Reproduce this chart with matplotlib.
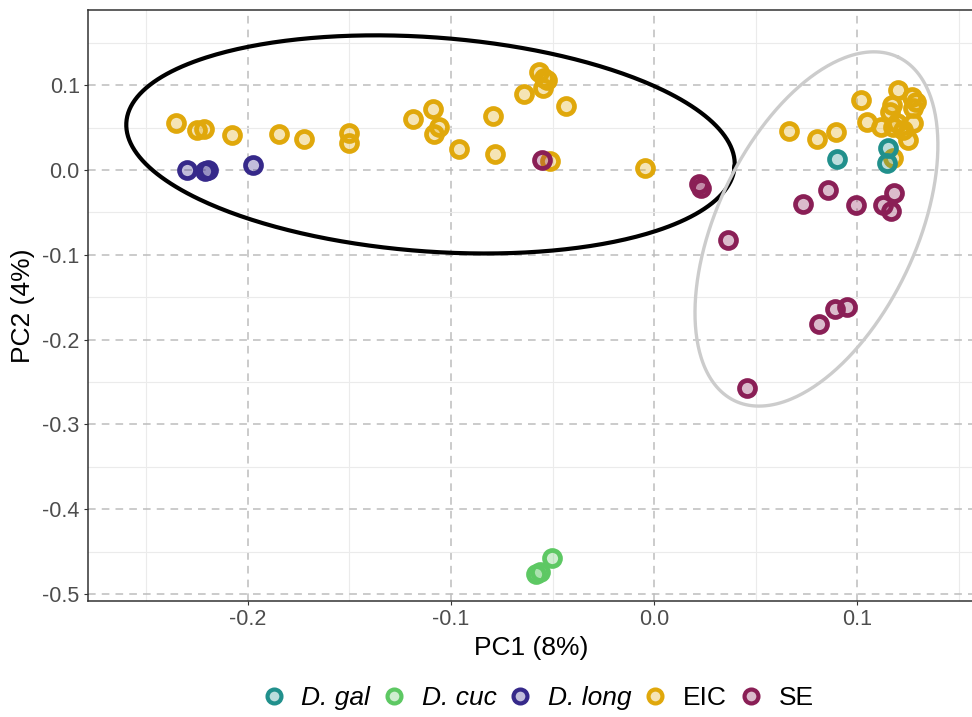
import numpy as np
import matplotlib.pyplot as plt
from matplotlib.lines import Line2D
from matplotlib.colors import to_rgba

plt.rcParams['font.family'] = ['Liberation Sans', 'DejaVu Sans']

# PCA scores per group
eic_x = [-0.2355, -0.2251, -0.2217, -0.2079, -0.1847, -0.1724, -0.1502, -0.1502,
         -0.1187, -0.1089, -0.1059, -0.1084, -0.0961, -0.0793, -0.0783, -0.0640,
         -0.0567, -0.0542, -0.0527, -0.0547, -0.0512, -0.0433, -0.0044,
         0.0665, 0.0803, 0.0897, 0.1020, 0.1049, 0.1118, 0.1202, 0.1172, 0.1163,
         0.1271, 0.1291, 0.1276, 0.1276, 0.1251, 0.1197, 0.1227, 0.1177, 0.1177]
eic_y = [0.0555, 0.0472, 0.0484, 0.0413, 0.0425, 0.0366, 0.0437, 0.0319,
         0.0602, 0.0720, 0.0507, 0.0425, 0.0248, 0.0637, 0.0189, 0.0897,
         0.1156, 0.1086, 0.1062, 0.0968, 0.0106, 0.0755, 0.0024,
         0.0460, 0.0366, 0.0448, 0.0826, 0.0566, 0.0507, 0.0944, 0.0767, 0.0684,
         0.0861, 0.0802, 0.0732, 0.0555, 0.0354, 0.0555, 0.0472, 0.0507, 0.0142]

se_x = [-0.0552, 0.0222, 0.0232, 0.0734, 0.0857, 0.0995, 0.1128, 0.1182, 0.1167,
        0.0365, 0.0892, 0.0951, 0.0813, 0.0458]
se_y = [0.0118, -0.0165, -0.0212, -0.0401, -0.0236, -0.0413, -0.0413, -0.0271, -0.0484,
        -0.0826, -0.1640, -0.1617, -0.1817, -0.2572]

gal_x = [0.0901, 0.1153, 0.1148]
gal_y = [0.0130, 0.0260, 0.0083]

cuc_x = [-0.0581, -0.0562, -0.0502]
cuc_y = [-0.4767, -0.4743, -0.4578]

long_x = [-0.2300, -0.2212, -0.2197, -0.1975]
long_y = [0.0000, -0.0012, 0.0000, 0.0059]

groups = ['D. gal', 'D. cuc', 'D. long', 'EIC', 'SE']
colors = {'D. gal': '#21908C', 'D. cuc': '#5DC863', 'D. long': '#36298A',
          'EIC': '#E0A80B', 'SE': '#8A1F56'}
points = {'EIC': (eic_x, eic_y), 'SE': (se_x, se_y), 'D. gal': (gal_x, gal_y),
          'D. cuc': (cuc_x, cuc_y), 'D. long': (long_x, long_y)}

fig = plt.figure(figsize=(9.72, 7.17), dpi=100)
ax = fig.add_axes([88 / 972, 116 / 717, 887 / 972, 591 / 717])

for g in ['EIC', 'SE', 'D. gal', 'D. cuc', 'D. long']:
    x, y = points[g]
    ax.plot(x, y, 'o', ls='none', ms=11.5, mew=3.4, mec=colors[g],
            mfc=to_rgba(colors[g], 0.3), zorder=3)

# cluster ellipses: centre plus two half-axis vectors
t = np.linspace(0, 2 * np.pi, 400)
for c, u, v, col, w in [((-0.1101, 0.0301), (0.1498, -0.0263), (0.00384, 0.1259), 'black', 3.0),
                        ((0.0800, -0.0696), (0.0402, 0.2027), (-0.0443, 0.0504), '#CCCCCC', 2.4)]:
    ex = c[0] + u[0] * np.cos(t) + v[0] * np.sin(t)
    ey = c[1] + u[1] * np.cos(t) + v[1] * np.sin(t)
    ax.plot(ex, ey, color=col, lw=w, zorder=4)

ax.set_xlim(-0.2788, 0.1581)
ax.set_ylim(-0.5083, 0.1886)
ax.set_xticks([-0.2, -0.1, 0.0, 0.1])
ax.set_xticklabels(['-0.2', '-0.1', '0.0', '0.1'])
ax.set_yticks([0.1, 0.0, -0.1, -0.2, -0.3, -0.4, -0.5])
ax.set_yticklabels(['0.1', '0.0', '-0.1', '-0.2', '-0.3', '-0.4', '-0.5'])
ax.set_xticks([-0.25, -0.15, -0.05, 0.05, 0.15], minor=True)
ax.set_yticks([0.15, 0.05, -0.05, -0.15, -0.25, -0.35, -0.45], minor=True)
ax.grid(True, which='minor', color='#EBEBEB', lw=0.8, zorder=0)
ax.grid(True, which='major', color='#BDBDBD', lw=1.1, ls=(0, (5, 4)), zorder=1)
ax.tick_params(which='minor', length=0)
ax.tick_params(which='major', length=3, width=0.8, color='#333333', pad=3,
               labelsize=15.5, labelcolor='#4D4D4D')
for s in ['left', 'bottom', 'top']:
    ax.spines[s].set_color('#333333')
    ax.spines[s].set_linewidth(1.1)
ax.spines['right'].set_visible(False)
ax.set_axisbelow(True)

ax.set_xlabel('PC1 (8%)', fontsize=19, labelpad=4)
ax.set_ylabel('PC2 (4%)', fontsize=19, labelpad=5)

handles = [Line2D([], [], marker='o', ls='none', ms=10, mew=3.0, mec=colors[g],
                  mfc=to_rgba(colors[g], 0.3)) for g in groups]
leg = fig.legend(handles, groups, loc='center', bbox_to_anchor=(0.5525, 0.026),
                 ncol=5, frameon=False, fontsize=19, handletextpad=0.55,
                 columnspacing=0.4, handlelength=1.0, borderpad=0)
for txt in leg.get_texts()[:3]:
    txt.set_style('italic')

fig.savefig('out.png', dpi=100)
